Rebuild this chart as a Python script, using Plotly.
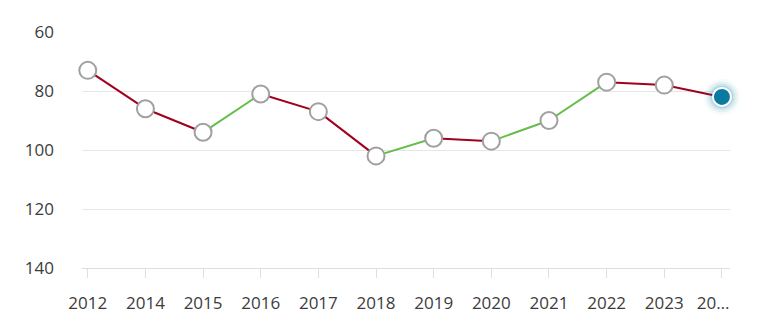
import plotly.graph_objects as go

# Ranking by year (lower is better, axis reversed)
years = ["2012", "2014", "2015", "2016", "2017", "2018", "2019", "2020", "2021", "2022", "2023", "20…"]
ranks = [73, 86, 94, 81, 87, 102, 96, 97, 90, 77, 78, 82]
y_ticks = [60, 80, 100, 120, 140]

WORSE = "#a0001e"
BETTER = "#64be4a"
FONT = "Open Sans, sans-serif"

x = list(range(len(years)))
fig = go.Figure()

# One segment per consecutive pair, coloured by direction of change
for i in range(len(ranks) - 1):
    color = WORSE if ranks[i + 1] > ranks[i] else BETTER
    fig.add_trace(go.Scatter(
        x=[x[i], x[i + 1]], y=[ranks[i], ranks[i + 1]],
        mode="lines", line=dict(color=color, width=2),
        hoverinfo="skip", showlegend=False, cliponaxis=False,
    ))

# Hollow markers for past years
fig.add_trace(go.Scatter(
    x=x[:-1], y=ranks[:-1], mode="markers",
    marker=dict(size=17, color="white", line=dict(color="#a0a0a0", width=2)),
    showlegend=False, cliponaxis=False,
))

# Glow around the latest value
for size, alpha in [(36, 0.04), (31, 0.07), (26, 0.11), (22, 0.16)]:
    fig.add_trace(go.Scatter(
        x=[x[-1]], y=[ranks[-1]], mode="markers",
        marker=dict(size=size, color=f"rgba(10,122,160,{alpha})", line=dict(width=0)),
        hoverinfo="skip", showlegend=False, cliponaxis=False,
    ))

fig.add_trace(go.Scatter(
    x=[x[-1]], y=[ranks[-1]], mode="markers",
    marker=dict(size=18, color="#0a7aa0", line=dict(color="white", width=2)),
    showlegend=False, cliponaxis=False,
))

# The truncated last label sits flush with the plot's right edge
tick_text = years[:-1] + [years[-1] + "&nbsp;" * 4]

fig.update_layout(
    width=757, height=331,
    margin=dict(l=82, r=27, t=32, b=63),
    paper_bgcolor="white", plot_bgcolor="white",
    font=dict(family=FONT, size=17, color="#3c3c3c"),
    xaxis=dict(
        tickmode="array", tickvals=x, ticktext=tick_text,
        range=[-0.1, len(years) - 1 + 0.14],
        showgrid=False, zeroline=False, automargin=False,
        showline=True, linecolor="#dedede", linewidth=1,
        ticks="outside", ticklen=9, tickcolor="#dedede", tickwidth=1,
        tickfont=dict(size=17, color="#3c3c3c"),
        ticklabelstandoff=11,
    ),
    yaxis=dict(
        tickmode="array", tickvals=y_ticks,
        range=[140, 60], automargin=False,
        showgrid=True, gridcolor="#e6e6e6", gridwidth=1,
        zeroline=False, showline=False,
        tickfont=dict(size=17, color="#3c3c3c"),
        ticklabelstandoff=27,
    ),
)

fig.write_html("out.html")
